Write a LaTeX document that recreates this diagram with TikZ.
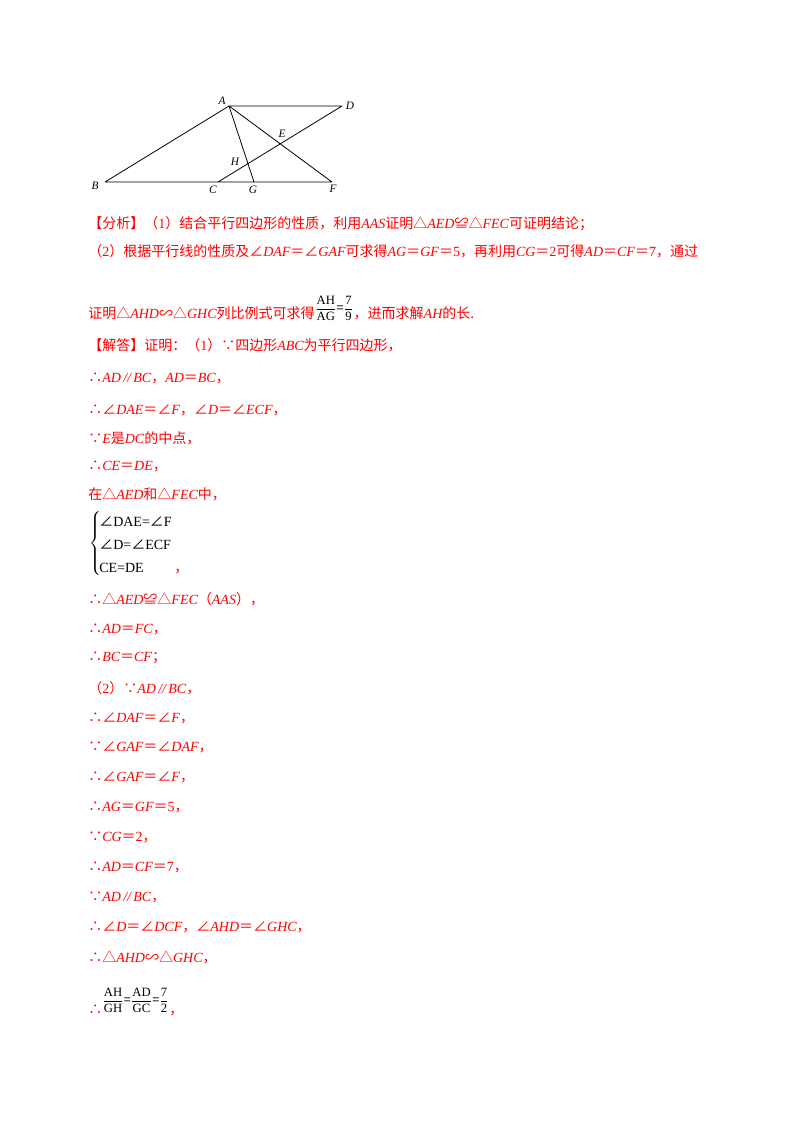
\documentclass[tikz,border=0pt]{standalone}
\usepackage{fontspec}
\setmainfont{Noto Sans CJK SC}
\newfontfamily\lat{Liberation Serif}
\newcommand\m[1]{{\lat\itshape #1}}
\newcommand\n[1]{{\lat #1}}
\newcommand\fr[2]{$\displaystyle\frac{\hbox{\lat #1}}{\hbox{\lat #2}}$}
\begin{document}
\begin{tikzpicture}[x=0.75pt,y=-0.75pt,
  ln/.style={line width=0.6pt},
  lb/.style={font=\lat\itshape\fontsize{8.5}{10}\selectfont},
  tx/.style={anchor=west,text=red,inner sep=0pt,font=\fontsize{10.5}{12}\selectfont},
  bk/.style={anchor=west,text=black,inner sep=0pt,font=\lat\fontsize{10.5}{12}\selectfont}]
\useasboundingbox[fill=white] (0,0) rectangle (800,1132);
% figure
\coordinate (A) at (229,106); \coordinate (D) at (342,106);
\coordinate (B) at (105,182); \coordinate (C) at (218,182);
\coordinate (G) at (254,182); \coordinate (F) at (332,182);
\draw[ln] (A)--(D) (A)--(B) (B)--(F) (A)--(F) (A)--(G) (C)--(D);
\node[lb] (lA) at (222,101) {A}; \node[lb] (lD) at (350,106) {D};
\node[lb] (lB) at (95,186) {B}; \node[lb] (lC) at (213,190) {C};
\node[lb] (lG) at (253,190) {G}; \node[lb] (lF) at (333,189) {F};
\node[lb] (lE) at (282,134) {E}; \node[lb] (lH) at (235,162) {H};
% text
\node[tx] (t1) at (88,224) {【分析】（\n{1}）结合平行四边形的性质，利用\m{AAS}证明△\m{AED}≌△\m{FEC}可证明结论；};
\node[tx] (t2) at (88,251) {（\n{2}）根据平行线的性质及∠\m{DAF}＝∠\m{GAF}可求得\m{AG}＝\m{GF}＝\n{5}，再利用\m{CG}＝\n{2}可得\m{AD}＝\m{CF}＝\n{7}，通过};
\node[tx] (t3) at (88,313) {证明△\m{AHD}∽△\m{GHC}列比例式可求得};
\node[bk,font=\fontsize{9.5}{10}\selectfont,anchor=south west] (f1) at ([yshift=-0.75pt]t3.south east) {\fr{AH}{AG}=\fr{7}{9}};
\node[tx,anchor=base west] (t3b) at (t3.base -| f1.east) {，进而求解\m{AH}的长.};
\node[tx] (t4) at (88,345) {【解答】证明：（\n{1}）∵四边形\m{ABC}为平行四边形，};
\node[tx] (t5) at (88,378) {∴\m{AD}\,\m{//}\,\m{BC}，\m{AD}＝\m{BC}，};
\node[tx] (t6) at (88,410) {∴∠\m{DAE}＝∠\m{F}，∠\m{D}＝∠\m{ECF}，};
\node[tx] (t7) at (88,438) {∵\m{E}是\m{DC}的中点，};
\node[tx] (t8) at (88,466) {∴\m{CE}＝\m{DE}，};
\node[tx] (t9) at (88,494) {在△\m{AED}和△\m{FEC}中，};
\node[bk,text=black] (br) at (89,545) {$\left\{\rule{0pt}{23pt}\rule[-23pt]{0pt}{0pt}\right.$};
\node[bk] (b1) at (99,522) {{\rmfamily ∠}DAE={\rmfamily ∠}F};
\node[bk] (b2) at (99,545) {{\rmfamily ∠}D={\rmfamily ∠}ECF};
\node[bk] (b3) at (99,568) {CE=DE};
\node[tx] (bc) at (174,572) {，};
\node[tx] (t10) at (88,599) {∴△\m{AED}≌△\m{FEC}（\m{AAS}），};
\node[tx] (t11) at (88,629) {∴\m{AD}＝\m{FC}，};
\node[tx] (t12) at (88,658) {∴\m{BC}＝\m{CF}；};
\node[tx] (t13) at (88,688) {（\n{2}）∵\m{AD}\,\m{//}\,\m{BC}，};
\node[tx] (t14) at (88,718) {∴∠\m{DAF}＝∠\m{F}，};
\node[tx] (t15) at (88,747) {∵∠\m{GAF}＝∠\m{DAF}，};
\node[tx] (t16) at (88,777) {∴∠\m{GAF}＝∠\m{F}，};
\node[tx] (t17) at (88,807) {∴\m{AG}＝\m{GF}＝\n{5}，};
\node[tx] (t18) at (88,837) {∵\m{CG}＝\n{2}，};
\node[tx] (t19) at (88,867) {∴\m{AD}＝\m{CF}＝\n{7}，};
\node[tx] (t20) at (88,897) {∵\m{AD}\,\m{//}\,\m{BC}，};
\node[tx] (t21) at (88,927) {∴∠\m{D}＝∠\m{DCF}，∠\m{AHD}＝∠\m{GHC}，};
\node[tx] (t22) at (88,957) {∴△\m{AHD}∽△\m{GHC}，};
\node[tx] (t23) at (88,1010) {∴};
\node[bk,font=\fontsize{9.5}{10}\selectfont,anchor=south west] (f2) at (102,1013) {\fr{AH}{GH}=\fr{AD}{GC}=\fr{7}{2}};
\node[tx,anchor=base west] (t24) at (t23.base -| f2.east) {，};
\end{tikzpicture}
\end{document}
